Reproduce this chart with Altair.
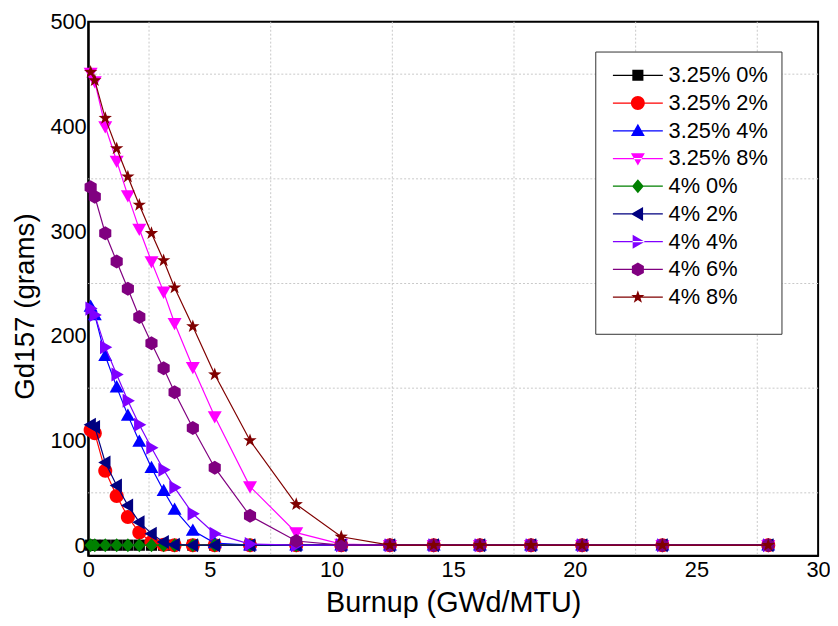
import altair as alt
import pandas as pd

FONT = "Liberation Sans"

# ---------------- data ----------------
burnup = [0.1, 0.27, 0.7, 1.17, 1.63, 2.1, 2.6, 3.1, 3.55, 4.3, 5.2, 6.65,
          8.55, 10.4, 12.4, 14.2, 16.1, 18.2, 20.3, 23.6, 27.95]

series_names = ["3.25% 0%", "3.25% 2%", "3.25% 4%", "3.25% 8%",
                "4% 0%", "4% 2%", "4% 4%", "4% 6%", "4% 8%"]
series_colors = ["#000000", "#FF0000", "#0000FF", "#FF00FF",
                 "#008000", "#000080", "#8000FF", "#800080", "#800000"]

gd_325_0 = [0, 0, 0, 0, 0, 0, 0, 0, 0, 0, 0, 0, 0, 0, 0, 0, 0, 0, 0, 0, 0]
gd_325_2 = [110, 107, 71, 47, 27, 12, 3, 0.5, 0, 0, 0, 0, 0, 0, 0, 0, 0, 0, 0, 0, 0]
gd_325_4 = [228, 220, 181, 151, 124, 99, 74, 52, 34, 14, 2, 0, 0, 0, 0, 0, 0, 0, 0, 0, 0]
gd_325_8 = [451, 443, 400, 367, 334, 302, 271, 242, 212, 170, 123, 56, 12, 1, 0, 0, 0, 0, 0, 0, 0]
gd_4_0 = [0, 0, 0, 0, 0, 0, 0, 0, 0, 0, 0, 0, 0, 0, 0, 0, 0, 0, 0, 0, 0]
gd_4_2 = [115, 113, 79, 57, 38, 22, 11, 3, 0.5, 0, 0, 0, 0, 0, 0, 0, 0, 0, 0, 0, 0]
gd_4_4 = [226, 220, 189, 163, 138, 115, 93, 72, 55, 30, 11, 1, 0, 0, 0, 0, 0, 0, 0, 0, 0]
gd_4_6 = [342, 333, 298, 271, 245, 218, 193, 169, 146, 112, 74, 28, 4, 0, 0, 0, 0, 0, 0, 0, 0]
gd_4_8 = [452, 444, 408, 379, 352, 325, 298, 272, 246, 209, 163, 100, 39, 8, 0, 0, 0, 0, 0, 0, 0]

series_values = [gd_325_0, gd_325_2, gd_325_4, gd_325_8,
                 gd_4_0, gd_4_2, gd_4_4, gd_4_6, gd_4_8]

x_ticks = [0, 5, 10, 15, 20, 25, 30]
y_ticks = [0, 100, 200, 300, 400, 500]
grid_x = [2.5, 7.5, 12.5, 17.5, 22.5, 27.5]
grid_y = [50, 150, 250, 350, 450]

# ---------------- marker shapes (unit box -1..1) ----------------
SQUARE = "M-0.8,-0.8L0.8,-0.8L0.8,0.8L-0.8,0.8Z"
CIRCLE = "M1,0A1,1,0,1,1,-1,0A1,1,0,1,1,1,0Z"
TRI_UP = "M0,-1L1,0.75L-1,0.75Z"
TRI_DOWN = "M0,1L1,-0.75L-1,-0.75Z"
DIAMOND = "M0,-1L0.85,0L0,1L-0.85,0Z"
TRI_LEFT = "M-1,0L0.75,-1L0.75,1Z"
TRI_RIGHT = "M1,0L-0.75,-1L-0.75,1Z"
HEXAGON = "M0,-1L0.866,-0.5L0.866,0.5L0,1L-0.866,0.5L-0.866,-0.5Z"
STAR = ("M0,-1L0.235,-0.324L0.951,-0.309L0.38,0.124L0.588,0.809L0,0.4"
        "L-0.588,0.809L-0.38,0.124L-0.951,-0.309L-0.235,-0.324Z")
plot_shapes = [SQUARE, CIRCLE, TRI_UP, TRI_DOWN, DIAMOND,
               TRI_LEFT, TRI_RIGHT, HEXAGON, STAR]
# legend symbol: thin filled bar (the line) plus the marker
LEGEND_BAR = "M-3.6,-0.09L3.6,-0.09L3.6,0.09L-3.6,0.09Z"
legend_shapes = [LEGEND_BAR + s for s in plot_shapes]

rows = []
for name, vals in zip(series_names, series_values):
    for b, v in zip(burnup, vals):
        rows.append({"series": name, "burnup": b, "gd": v})
df = pd.DataFrame(rows)

x_scale = alt.Scale(domain=[0, 30], nice=False, zero=False)
y_scale = alt.Scale(domain=[-10, 500], nice=False, zero=False)

x_axis = alt.Axis(values=x_ticks, title="Burnup (GWd/MTU)", labelPadding=4,
                  titlePadding=8, labelFlush=False, titleFontSize=29)
y_axis = alt.Axis(values=y_ticks, title="Gd157 (grams)", labelPadding=2,
                  titlePadding=11, titleY=287)

X = alt.X("burnup:Q", scale=x_scale, axis=x_axis)
Y = alt.Y("gd:Q", scale=y_scale, axis=y_axis)

gx = alt.Chart(pd.DataFrame({"burnup": grid_x})).mark_rule(
    color="#c8c8c8", strokeDash=[2, 2], strokeWidth=1
).encode(x=X)

gy = alt.Chart(pd.DataFrame({"gd": grid_y})).mark_rule(
    color="#c8c8c8", strokeDash=[2, 2], strokeWidth=1
).encode(y=Y)

series_layers = []
for name, col, shp in zip(series_names, series_colors, plot_shapes):
    series_layers.append(
        alt.Chart(df).transform_filter(alt.datum.series == name).mark_line(
            color=col, strokeWidth=1.2,
            point=alt.OverlayMarkDef(filled=True, opacity=1, size=200,
                                     strokeWidth=0, shape=shp, color=col),
        ).encode(x=X, y=Y)
    )

legend_spec = alt.Legend(
    title=" ", titleOrient="bottom", titleFontSize=12, titlePadding=2,
    orient="none", legendX=512, legendY=30,
    symbolSize=196, symbolOffset=19, labelOffset=20, symbolStrokeWidth=0,
    symbolOpacity=1, labelFontSize=22, labelFont=FONT, labelColor="black",
    labelLimit=300, padding=13, rowPadding=6, strokeColor="#333333",
    fillColor="white",
)

legend_layer = alt.Chart(df).mark_point(
    filled=True, size=196, opacity=0, strokeWidth=0
).encode(
    x=X, y=Y,
    color=alt.Color("series:N", scale=alt.Scale(domain=series_names, range=series_colors),
                    legend=legend_spec),
    shape=alt.Shape("series:N", scale=alt.Scale(domain=series_names, range=legend_shapes),
                    legend=legend_spec),
)

chart = alt.layer(gx, gy, *series_layers, legend_layer).properties(
    width=737, height=539,
    padding={"left": 81, "top": 11, "right": 12, "bottom": 60},
    autosize="none",
).configure_view(
    stroke="black", strokeWidth=2
).configure_axis(
    domainColor="black", domainWidth=2, ticks=False, grid=False,
    labelFont=FONT, labelFontSize=22, labelColor="black",
    titleFont=FONT, titleFontSize=28, titleFontWeight="normal", titleColor="black",
)

chart.save("out.html", embed_options={"renderer": "svg", "actions": False})
